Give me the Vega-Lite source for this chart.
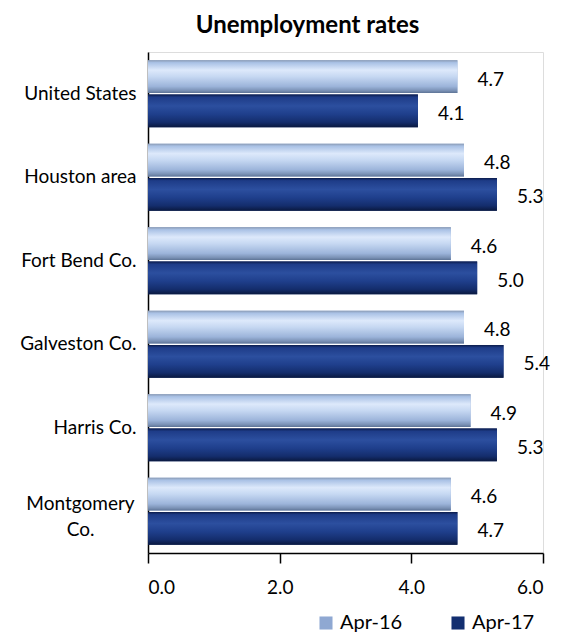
{
  "$schema": "https://vega.github.io/schema/vega-lite/v6.json",
  "width": 395,
  "height": 501,
  "autosize": {"type": "none"},
  "padding": {"left": 148, "top": 52, "right": 18, "bottom": 79},
  "background": "white",
  "title": {
    "text": "Unemployment rates",
    "font": "Lato",
    "fontSize": 24,
    "fontWeight": "bold",
    "color": "#000000",
    "anchor": "middle",
    "frame": "group",
    "dx": -38,
    "offset": 14
  },
  "data": {
    "values": [
      {"area": "United States", "period": "Apr-16", "rate": 4.7},
      {"area": "United States", "period": "Apr-17", "rate": 4.1},
      {"area": "Houston area", "period": "Apr-16", "rate": 4.8},
      {"area": "Houston area", "period": "Apr-17", "rate": 5.3},
      {"area": "Fort Bend Co.", "period": "Apr-16", "rate": 4.6},
      {"area": "Fort Bend Co.", "period": "Apr-17", "rate": 5.0},
      {"area": "Galveston Co.", "period": "Apr-16", "rate": 4.8},
      {"area": "Galveston Co.", "period": "Apr-17", "rate": 5.4},
      {"area": "Harris Co.", "period": "Apr-16", "rate": 4.9},
      {"area": "Harris Co.", "period": "Apr-17", "rate": 5.3},
      {"area": "Montgomery Co.", "period": "Apr-16", "rate": 4.6},
      {"area": "Montgomery Co.", "period": "Apr-17", "rate": 4.7}
    ]
  },
  "encoding": {
    "y": {
      "field": "area",
      "type": "nominal",
      "sort": null,
      "scale": {"paddingInner": 0.2, "paddingOuter": 0.1},
      "axis": {
        "title": null,
        "domainColor": "#000000",
        "domainWidth": 1.5,
        "ticks": false,
        "labelFont": "Lato",
        "labelFontSize": 19,
        "labelColor": "#000000",
        "labelLineHeight": 26,
        "labelLimit": 200,
        "labelExpr": "datum.value == 'Montgomery Co.' ? ['Montgomery', 'Co.'] : datum.value",
        "labelAlign": {"condition": {"test": "datum.value == 'Montgomery Co.'", "value": "center"}, "value": "right"},
        "labelPadding": {"condition": {"test": "datum.value == 'Montgomery Co.'", "value": 68}, "value": 12},
        "labelOffset": {"condition": {"test": "datum.value == 'Montgomery Co.'", "value": -7}, "value": 0}
      }
    },
    "yOffset": {
      "field": "period",
      "type": "nominal",
      "sort": ["Apr-16", "Apr-17"],
      "scale": {"paddingInner": 0.05}
    },
    "x": {
      "field": "rate",
      "type": "quantitative",
      "scale": {"domain": [0, 6], "nice": false},
      "axis": {
        "title": null,
        "values": [0, 2, 4, 6],
        "format": ".1f",
        "grid": false,
        "domainColor": "#000000",
        "domainWidth": 1.5,
        "tickColor": "#000000",
        "tickWidth": 1.5,
        "tickSize": 10,
        "labelFont": "Lato",
        "labelFontSize": 19,
        "labelColor": "#000000",
        "labelPadding": 15
      }
    }
  },
  "layer": [
    {
      "mark": {"type": "bar"},
      "encoding": {
        "color": {
          "field": "period",
          "type": "nominal",
          "scale": {"domain": ["Apr-16", "Apr-17"], "range": ["#8fa8d2", "#132f70"]},
          "legend": {
            "title": null,
            "orient": "none",
            "legendX": 168,
            "legendY": 561,
            "direction": "horizontal",
            "columns": 2,
            "columnPadding": 45,
            "symbolType": "square",
            "symbolSize": 170,
            "symbolStrokeWidth": 0,
            "labelFont": "Lato",
            "labelFontSize": 20,
            "labelColor": "#000000",
            "labelOffset": 4
          }
        }
      }
    },
    {
      "mark": {"type": "bar"},
      "encoding": {
        "fill": {
          "condition": {
            "test": "datum.period === 'Apr-16'",
            "value": {
              "gradient": "linear", "x1": 0, "y1": 0, "x2": 0, "y2": 1,
              "stops": [
                {"offset": 0, "color": "#8b9cb6"},
                {"offset": 0.07, "color": "#a9c1e5"},
                {"offset": 0.3, "color": "#dde9fb"},
                {"offset": 0.5, "color": "#c6d8f2"},
                {"offset": 0.8, "color": "#9cb4da"},
                {"offset": 0.93, "color": "#7a91b5"},
                {"offset": 1, "color": "#5f7597"}
              ]
            }
          },
          "value": {
            "gradient": "linear", "x1": 0, "y1": 0, "x2": 0, "y2": 1,
            "stops": [
              {"offset": 0, "color": "#0c1d4d"},
              {"offset": 0.08, "color": "#1e3c88"},
              {"offset": 0.35, "color": "#2c4f9f"},
              {"offset": 0.6, "color": "#1f3f8c"},
              {"offset": 0.85, "color": "#142d6c"},
              {"offset": 1, "color": "#0a1940"}
            ]
          }
        }
      }
    },
    {
      "mark": {
        "type": "text",
        "align": "left",
        "baseline": "middle",
        "dx": 20,
        "dy": 3,
        "font": "Lato",
        "fontSize": 19,
        "color": "#000000"
      },
      "encoding": {
        "text": {"field": "rate", "type": "quantitative", "format": ".1f"}
      }
    }
  ]
}
